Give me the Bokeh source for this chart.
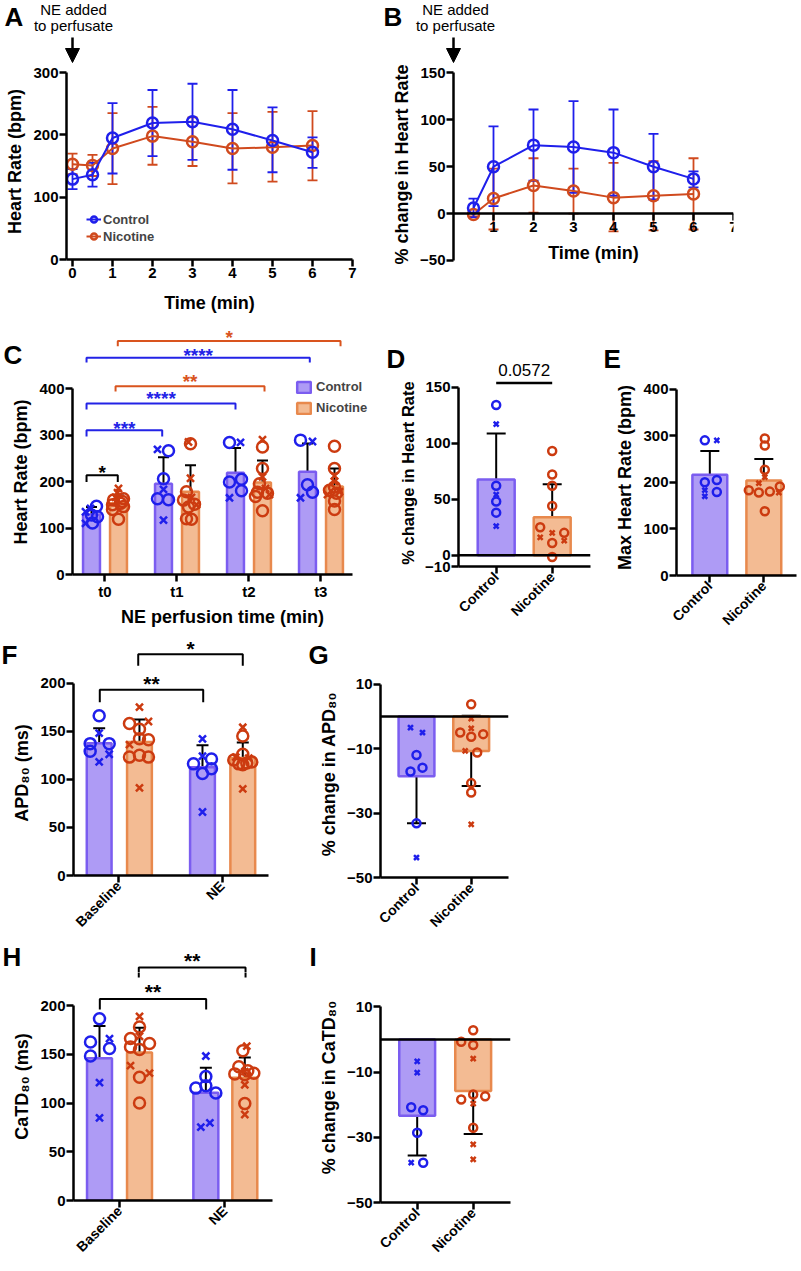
import math
from bokeh.plotting import figure
from bokeh.layouts import column, row
from bokeh.models import (ColumnDataSource, Whisker, TeeHead, Span, Legend,
                          LegendItem, FixedTicker, Arrow, NormalHead)
from bokeh.embed import file_html
from bokeh.resources import INLINE
from bokeh.core.properties import value

FONT = "Liberation Sans"
BLUE = "#1F1FEB"
RED = "#D04A1E"
PT_BLUE = "#1F1FEB"
PT_RED = "#CC3B10"
CTRL_FILL = "#AE9BF5"
CTRL_LINE = "#7B5DF0"
NIC_FILL = "#F3BB93"
NIC_LINE = "#E8894D"
SIG_BLUE = "#2323E6"
SIG_ORANGE = "#D9541E"

# ---------------- data ----------------
# Panel A: heart rate time course (mean, upper/lower error)
time_a = [0, 0.5, 1, 2, 3, 4, 5, 6]
a_ctrl_mean = [129, 136, 195, 219, 221, 209, 191, 172]
a_ctrl_hi = [145, 155, 251, 272, 282, 272, 244, 196]
a_ctrl_lo = [113, 117, 138, 166, 160, 144, 140, 147]
a_nic_mean = [153, 151, 178, 198, 189, 178, 180, 183]
a_nic_hi = [170, 168, 235, 245, 228, 235, 237, 238]
a_nic_lo = [137, 134, 121, 152, 150, 122, 125, 127]

# Panel B: % change in heart rate
time_b = [0.5, 1, 2, 3, 4, 5, 6]
b_ctrl_mean = [6, 50, 73, 71, 65, 50, 37]
b_ctrl_hi = [16, 93, 111, 120, 111, 85, 45]
b_ctrl_lo = [-4, 8, 35, 22, 19, 15, 28]
b_nic_mean = [-1, 16, 30, 24, 17, 19, 21]
b_nic_hi = [1, 48, 59, 48, 54, 56, 59]
b_nic_lo = [-3, -17, 1, 0, -19, -18, -17]
ne_time = 0

# Panel C: heart rate during NE perfusion
c_cats = ["t0", "t1", "t2", "t3"]
c_ctrl_mean = [129, 195, 219, 221]
c_ctrl_sd = [16, 57, 53, 61]
c_nic_mean = [153, 178, 198, 189]
c_nic_sd = [17, 57, 47, 39]
c_ctrl_pts = [[147, 142, 135, 128, 124, 111, 110],
              [269, 266, 206, 183, 163, 161, 117],
              [284, 284, 205, 199, 180, 165],
              [289, 286, 193, 177, 165]]
c_ctrl_mk = ["oxxooox", "xooxoox", "oxooox", "oxoox"]
c_nic_pts = [[185, 176, 166, 163, 160, 157, 153, 150, 146, 140, 119],
             [285, 281, 207, 178, 166, 160, 151, 150, 145, 120, 119],
             [290, 274, 228, 210, 195, 185, 177, 175, 172, 168, 137],
             [276, 228, 212, 200, 188, 181, 178, 175, 172, 158, 140]]
c_nic_mk = ["xxxoooooooo", "xoxoxooxooo", "xooxoxooxoo", "ooxxooxoxoo"]
c_sig_text = ["*", "***", "****", "**", "****", "*"]
c_sig_color = ["black", SIG_BLUE, SIG_BLUE, SIG_ORANGE, SIG_BLUE, SIG_ORANGE]

# Panel D: % change in heart rate
groups = ["Control", "Nicotine"]
d_mean = [67.5, 33.8]
d_sd = [41, 29.6]
d_ctrl_pts = [134, 117, 62, 54, 48, 38, 26]
d_ctrl_mk = "oxoxoox"
d_nic_pts = [93, 72, 62, 44, 25, 16, 20, 20, 11, 13, -1.5]
d_nic_mk = "oooooxoxoxo"
d_pvalue = "0.0572"

# Panel E: max heart rate
e_mean = [216, 204]
e_sd = [51, 46]
e_ctrl_pts = [290, 290, 200, 205, 179, 183, 170]
e_ctrl_mk = "oxoooxx"
e_nic_pts = [294, 279, 227, 211, 198, 191, 183, 178, 180, 178, 138]
e_nic_mk = "oooxxooooxo"

# Panel F: APD80
f_cats = ["Baseline", "NE"]
f_ctrl_mean = [137.5, 112.4]
f_ctrl_sd = [15.6, 23]
f_nic_mean = [138.6, 122]
f_nic_sd = [23.6, 16.3]
f_ctrl_pts = [[166, 148, 137, 137, 129, 126, 118], [142, 124, 121, 116, 111, 106, 66]]
f_ctrl_mk = ["oxoooxx", "xxoooox"]
f_nic_pts = [[175, 160, 158, 152, 142, 141, 136, 125, 123, 123, 91],
             [154, 145, 126, 123, 122, 120, 118, 117, 116, 115, 90]]
f_nic_mk = ["xxooooxooox", "xooxxooooox"]
f_sig_text = ["**", "*"]

# Panel G: % change in APD80
g_mean = [-18.6, -10.7]
g_sd = [14.6, 10.9]
g_ctrl_pts = [-3.5, -5, -12, -15.9, -17.1, -33.2, -43.8]
g_ctrl_mk = "xxoooox"
g_nic_pts = [3.8, -0.7, -3.7, -5, -5.5, -6.3, -10.7, -11.2, -20.7, -23.6, -33.5]
g_nic_mk = "oxxoooxooox"

# Panel H: CaTD80
h_ctrl_mean = [146, 110.5]
h_ctrl_sd = [33, 25.7]
h_nic_mean = [151.9, 126]
h_nic_sd = [25.4, 20.8]
h_ctrl_pts = [[186.5, 166.1, 162.7, 156, 148.2, 121, 84.8], [148.2, 127.1, 117.7, 115.3, 110.2, 79.7, 75.3]]
h_ctrl_mk = ["oxoooxx", "xooooxx"]
h_nic_pts = [[188.8, 178, 168.5, 166.1, 161.1, 157.6, 155, 138.3, 130.6, 126.5, 100],
             [158.3, 153.6, 137.3, 133, 132.2, 130.6, 129.9, 129, 118.7, 99.4, 88.2]]
h_nic_mk = ["xoxooooxxoo", "xoooxoooxox"]
h_sig_text = ["**", "**"]

# Panel I: % change in CaTD80
i_mean = [-23.4, -15.8]
i_sd = [12.2, 13.2]
i_ctrl_pts = [-6.7, -10.2, -20.8, -21.7, -28.6, -37.8, -37.8]
i_ctrl_mk = "xxoooxo"
i_nic_pts = [2.8, -0.7, -1.7, -5.9, -16.9, -17.4, -18.4, -19.7, -27.1, -32.2, -36.8]
i_nic_mk = "oooxoooxoxx"

# ---------------- layout (positions, pixel jitter) ----------------
c_ctrl_dx = [[5, -1, -6, 0, 6, 1, -6], [-6, 5, 0, 0, -6, 5, 0], [-6, 5, 6, -6, 6, -6], [-7, 5, 0, 5, -7]]
c_nic_dx = [[0, -1, -3, 5, -5, 4, 2, -6, 5, -6, 0], [-2, 0, 0, -4, 1, -7, 4, 6, -2, -4, 1],
            [0, 0, 0, 0, -3, 3, -5, 5, 7, -7, 0], [0, 0, 0, 0, 0, -5, 5, 2, -7, 0, 0]]
c_sig_x0 = [-0.254, -0.254, -0.254, 0.149, -0.254, 0.18]
c_sig_x1 = [0.18, 0.797, 1.815, 2.218, 2.847, 3.274]
c_sig_y = [213.6, 310, 368, 405, 466, 502]
c_sig_leg = [199, 297, 355, 393.5, 456, 491]
c_sig_ty = [219, 314, 379, 416, 472, 509]
d_ctrl_dx = [0, 0, 0, 0, 0, 0, 0]
d_nic_dx = [0, 0, 0, 0, -12, -12, 12, 0, 0, 12, 0]
e_ctrl_dx = [-5, 7, -5, 7, 7, -5, -5]
e_nic_dx = [1, 1, 1, 1, -5, 16, -15, -5, 6, 15, 1]
f_ctrl_dx = [[0, 0, -9, 10, -9, 10, 0], [0, 0, 9, -9, 9, 0, 0]]
f_nic_dx = [[0, 9, -10, 0, 0, 9, -10, 0, -10, 9, 0], [0, 0, 0, -7, 6, -9, 9, 4, -4, 0, 0]]
f_sig_x0 = [-0.184, 0.188]
f_sig_x1 = [0.817, 1.2]
f_sig_y = [193, 229.8]
f_sig_leg = [180, 217.8]
f_sig_ty = [199, 235.3]
g_ctrl_dx = [-6, 6, 0, 6, -6, 0, 0]
g_nic_dx = [0, 0, 0, -11, 12, 0, -6, 6, 0, 0, 0]
h_ctrl_dx = [[0, 10, -9, 10, -9, 0, 0], [0, 0, 0, -10, 10, 4, -5]]
h_nic_dx = [[0, 0, 0, -9, 10, -9, 0, -9, 10, 0, 0], [2, -2, -6, 3, 0, 9, -10, 0, 0, 0, 0]]
h_sig_x0 = [-0.187, 0.183]
h_sig_x1 = [0.823, 1.197]
h_sig_y = [206.8, 239]
h_sig_leg = [196, 228.8]
h_sig_ty = [214, 246.5]
i_ctrl_dx = [0, 0, -6, 6, 0, -6, 6]
i_nic_dx = [0, -12, 0, 0, 0, 12, -12, 0, 0, 0, 0]


def style_axes(p):
    for ax in p.axis:
        ax.axis_line_width = 2.5
        ax.axis_line_color = "black"
        ax.major_tick_line_width = 2.5
        ax.major_tick_line_color = "black"
        ax.major_tick_out = 7
        ax.major_tick_in = 0
        ax.minor_tick_line_color = None
        ax.major_label_text_font = FONT
        ax.major_label_text_font_style = "bold"
        ax.major_label_text_font_size = "15px"
        ax.major_label_text_color = "black"
        ax.major_label_standoff = 1
        ax.axis_label_text_font = FONT
        ax.axis_label_text_font_style = "bold"
        ax.axis_label_text_font_size = "18px"
        ax.axis_label_text_color = "black"
        ax.axis_label_standoff = 5


class Panel:
    """A header strip (no axes) stacked on a main plot sharing the same data scale."""

    def __init__(self, fx, fy, w, hh, hm, xr, yr, bl, br, bb):
        fw, fh = w - bl - br, hm - bb
        self.pxu = fw / (xr[1] - xr[0])
        self.pyu = fh / (yr[1] - yr[0])
        self.xr, self.yr = xr, yr
        self.frame_left = fx + bl
        self.frame_bottom = fy + hh + fh
        self.head_bottom = fy + hh
        common = dict(output_backend="svg", toolbar_location=None, tools="", title=None,
                      frame_align=False)
        self.main = figure(width=w, height=hm, x_range=xr, y_range=yr,
                           min_border_left=bl, min_border_right=br, min_border_top=0,
                           min_border_bottom=bb, **common)
        self.head = figure(width=w, height=hh,
                           x_range=(xr[0] - bl / self.pxu, xr[1] + br / self.pxu),
                           y_range=(yr[1], yr[1] + hh / self.pyu),
                           x_axis_location=None, y_axis_location=None, min_border=0, **common)
        for p in (self.main, self.head):
            p.grid.visible = False
            p.outline_line_color = None
        style_axes(self.main)
        self.figs = (self.head, self.main)

    def X(self, px):
        return self.xr[0] + (px - self.frame_left) / self.pxu

    def Y(self, py):
        return self.yr[0] + (self.frame_bottom - py) / self.pyu

    def fig_for(self, yval):
        py = self.frame_bottom - (yval - self.yr[0]) * self.pyu
        return self.head if py < self.head_bottom else self.main

    def layout(self):
        return column(self.head, self.main, spacing=0)

    def letter(self, txt, px, py):
        self.head.text(x=[self.X(px)], y=[self.Y(py)], text=[txt], text_font=value(FONT),
                       text_font_style="bold", text_font_size="26px", text_color="black",
                       text_align="left", text_baseline="middle")

    def note(self, txt, xval, yval, size="15px"):
        self.fig_for(yval).text(x=[xval], y=[yval], text=[txt], text_font=value(FONT),
                                text_font_size=size, text_color="black",
                                text_align="center", text_baseline="middle")

    def brackets(self, x0s, x1s, ys, legs, tys, texts, colors, fsize, lw=2):
        for x0, x1, y, lg, ty, t, c in zip(x0s, x1s, ys, legs, tys, texts, colors):
            for p in self.figs:
                p.line([x0, x0, x1, x1], [lg, y, y, lg], line_color=c, line_width=lw)
            self.fig_for(ty).text(x=[(x0 + x1) / 2], y=[ty], text=[t], text_font=value(FONT),
                                  text_font_style="bold", text_font_size=fsize, text_color=c,
                                  text_align="center", text_baseline="middle")


def cat_axis(p, labels, rotate):
    p.xaxis.ticker = FixedTicker(ticks=list(range(len(labels))))
    p.xaxis.major_label_overrides = {i: lab for i, lab in enumerate(labels)}
    if rotate:
        p.xaxis.major_label_orientation = math.pi / 4
        p.xaxis.major_label_text_font_size = "14px"


def draw_group(p, xc, means, sds, pts, mks, dxs, pxu, bar_w, fill, line, pcol, cap, msize, xsize):
    src = ColumnDataSource(dict(x=xc, top=means,
                                upper=[m + s for m, s in zip(means, sds)],
                                lower=[m - s for m, s in zip(means, sds)]))
    r = p.vbar(x="x", top="top", bottom=0, width=bar_w, fill_color=fill, line_color=line,
               line_width=2.5, source=src)
    xs, ys, ms, ss = [], [], [], []
    for x0, vals, mk, dx in zip(xc, pts, mks, dxs):
        for v, m, d in zip(vals, mk, dx):
            xs.append(x0 + d / pxu)
            ys.append(v)
            ms.append("circle" if m == "o" else "x")
            ss.append(msize if m == "o" else xsize)
    psrc = ColumnDataSource(dict(x=xs, y=ys, marker=ms, size=ss))
    p.scatter(x="x", y="y", marker="marker", size="size", source=psrc, line_color=pcol,
              fill_color=None, line_width=2.5)
    p.add_layout(Whisker(source=src, base="x", upper="upper", lower="lower",
                         line_color="black", line_width=2,
                         upper_head=TeeHead(size=cap, line_color="black", line_width=2),
                         lower_head=TeeHead(size=cap, line_color="black", line_width=2)))
    return r


def timecourse(p, t, cm, chi, clo, nm, nhi, nlo):
    out = {}
    for key, m, hi, lo, col in (("n", nm, nhi, nlo, RED), ("c", cm, chi, clo, BLUE)):
        src = ColumnDataSource(dict(t=t, m=m, hi=hi, lo=lo))
        p.add_layout(Whisker(source=src, base="t", upper="hi", lower="lo", line_color=col,
                             line_width=1.8,
                             upper_head=TeeHead(size=10, line_color=col, line_width=1.8),
                             lower_head=TeeHead(size=10, line_color=col, line_width=1.8)))
        ln = p.line("t", "m", source=src, line_color=col, line_width=2)
        sc = p.scatter("t", "m", source=src, marker="circle", size=11, line_color=col,
                       line_width=2.5, fill_color=None)
        out[key] = (ln, sc)
    return out


def ne_note(P, cx):
    P.note("NE added", P.X(cx), P.Y(9))
    P.note("to perfusate", P.X(cx), P.Y(25))
    P.head.add_layout(Arrow(x_start=ne_time, y_start=P.Y(37), x_end=ne_time, y_end=P.Y(62),
                            line_width=2.5, line_color="black",
                            end=NormalHead(size=14, fill_color="black", line_color="black")))


# ---------------- Panel A ----------------
A = Panel(0, 0, 380, 63, 255, (-0.15, 7.0), (0, 314.5), 66, 28, 59)
pA = A.main
pA.yaxis.bounds = (0, 300)
pA.xaxis.ticker = FixedTicker(ticks=[0, 1, 2, 3, 4, 5, 6, 7])
pA.yaxis.ticker = FixedTicker(ticks=[0, 100, 200, 300])
pA.xaxis.axis_label = "Time (min)"
pA.yaxis.axis_label = "Heart Rate (bpm)"
pA.xaxis.axis_label_standoff = 12
rA = timecourse(pA, time_a, a_ctrl_mean, a_ctrl_hi, a_ctrl_lo, a_nic_mean, a_nic_hi, a_nic_lo)
legA = Legend(items=[LegendItem(label="Control", renderers=list(rA["c"])),
                     LegendItem(label="Nicotine", renderers=list(rA["n"]))],
              location=(20, 15), padding=0, margin=0, spacing=1, glyph_width=15,
              glyph_height=16, label_height=16, label_standoff=2,
              label_text_font=FONT, label_text_font_style="bold", label_text_font_size="13px",
              border_line_color=None, background_fill_alpha=0)
pA.add_layout(legA)
ne_note(A, 73)
A.letter("A", 4, 16)

# ---------------- Panel B ----------------
B = Panel(380, 0, 421, 63, 255, (0, 7.0), (-55.4, 160.1), 73, 68, 53)
pB = B.main
pB.xaxis.fixed_location = 0
pB.yaxis.bounds = (-50, 150)
pB.xaxis.bounds = (0, 7)
pB.xaxis.ticker = FixedTicker(ticks=[1, 2, 3, 4, 5, 6, 7])
pB.yaxis.ticker = FixedTicker(ticks=[-50, 0, 50, 100, 150])
pB.xaxis.axis_label = "Time (min)"
pB.yaxis.axis_label = "% change in Heart Rate"
pB.xaxis.axis_label_standoff = 8
timecourse(pB, time_b, b_ctrl_mean, b_ctrl_hi, b_ctrl_lo, b_nic_mean, b_nic_hi, b_nic_lo)
ne_note(B, 455)
B.letter("B", 383, 16)

# ---------------- Panel C ----------------
C = Panel(0, 318, 380, 51, 267, (-0.449, 3.718), (0, 440.9), 72, 8, 62)
pC = C.main
pC.xaxis.bounds = (-0.449, 3.44)
pC.yaxis.bounds = (0, 400)
pC.yaxis.ticker = FixedTicker(ticks=[0, 100, 200, 300, 400])
cat_axis(pC, c_cats, False)
pC.xaxis.axis_label = "NE perfusion time (min)"
pC.yaxis.axis_label = "Heart Rate (bpm)"
pC.xaxis.axis_label_standoff = 4
xc_ctrl = [i - 0.185 for i in range(len(c_cats))]
xc_nic = [i + 0.19 for i in range(len(c_cats))]
rc = draw_group(pC, xc_ctrl, c_ctrl_mean, c_ctrl_sd, c_ctrl_pts, c_ctrl_mk, c_ctrl_dx, C.pxu, 0.235,
                CTRL_FILL, CTRL_LINE, PT_BLUE, 11, 11, 10)
rn = draw_group(pC, xc_nic, c_nic_mean, c_nic_sd, c_nic_pts, c_nic_mk, c_nic_dx, C.pxu, 0.235,
                NIC_FILL, NIC_LINE, PT_RED, 11, 11, 10)
C.brackets(c_sig_x0, c_sig_x1, c_sig_y, c_sig_leg, c_sig_ty, c_sig_text, c_sig_color, "19px")
legC = Legend(items=[LegendItem(label="Control", renderers=[rc]),
                     LegendItem(label="Nicotine", renderers=[rn])],
              location=(223, 159), padding=0, margin=0, spacing=6, glyph_width=17,
              glyph_height=14, label_height=14, label_standoff=4,
              label_text_font=FONT, label_text_font_style="bold", label_text_font_size="13px",
              border_line_color=None, background_fill_alpha=0)
pC.add_layout(legC)
C.letter("C", 3, 354)

# ---------------- Panel D ----------------
D = Panel(380, 318, 213, 61, 257, (-0.673, 1.684), (-10, 156.7), 78, 3, 70)
pD = D.main
pD.yaxis.bounds = (-10, 150)
pD.yaxis.ticker = FixedTicker(ticks=[-10, 0, 50, 100, 150])
cat_axis(pD, groups, True)
pD.yaxis.axis_label = "% change in Heart Rate"
pD.yaxis.axis_label_text_font_size = "16.5px"
draw_group(pD, [0], [d_mean[0]], [d_sd[0]], [d_ctrl_pts], [d_ctrl_mk], [d_ctrl_dx], D.pxu, 0.66,
           CTRL_FILL, CTRL_LINE, PT_BLUE, 19, 8, 7)
draw_group(pD, [1], [d_mean[1]], [d_sd[1]], [d_nic_pts], [d_nic_mk], [d_nic_dx], D.pxu, 0.66,
           NIC_FILL, NIC_LINE, PT_RED, 19, 8, 7)
pD.add_layout(Span(location=0, dimension="width", line_color="black", line_width=2.5))
for p in D.figs:
    p.line([0, 1], [153.6, 153.6], line_color="black", line_width=2.5)
D.note(d_pvalue, 0.5, D.Y(369), size="17px")
D.letter("D", 386, 358)

# ---------------- Panel E ----------------
E = Panel(593, 318, 208, 61, 257, (-0.617, 1.605), (0, 420.6), 83, 5, 59)
pE = E.main
pE.yaxis.bounds = (0, 400)
pE.yaxis.ticker = FixedTicker(ticks=[0, 100, 200, 300, 400])
cat_axis(pE, groups, True)
pE.yaxis.axis_label = "Max Heart Rate (bpm)"
draw_group(pE, [0], [e_mean[0]], [e_sd[0]], [e_ctrl_pts], [e_ctrl_mk], [e_ctrl_dx], E.pxu, 0.645,
           CTRL_FILL, CTRL_LINE, PT_BLUE, 19, 8, 7)
draw_group(pE, [1], [e_mean[1]], [e_sd[1]], [e_nic_pts], [e_nic_mk], [e_nic_dx], E.pxu, 0.645,
           NIC_FILL, NIC_LINE, PT_RED, 19, 8, 7)
E.letter("E", 603, 358)

# ---------------- Panel F ----------------
F = Panel(0, 636, 300, 34, 268, (-0.4385, 1.449), (0, 213), 73, 32, 61)
pF = F.main
pF.yaxis.bounds = (0, 200)
pF.yaxis.ticker = FixedTicker(ticks=[0, 50, 100, 150, 200])
cat_axis(pF, f_cats, True)
pF.yaxis.axis_label = "APD\u2088\u2080 (ms)"
draw_group(pF, [-0.19, 0.81], f_ctrl_mean, f_ctrl_sd, f_ctrl_pts, f_ctrl_mk, f_ctrl_dx, F.pxu, 0.24,
           CTRL_FILL, CTRL_LINE, PT_BLUE, 12, 11, 10)
draw_group(pF, [0.2, 1.2], f_nic_mean, f_nic_sd, f_nic_pts, f_nic_mk, f_nic_dx, F.pxu, 0.24,
           NIC_FILL, NIC_LINE, PT_RED, 12, 11, 10)
F.brackets(f_sig_x0, f_sig_x1, f_sig_y, f_sig_leg, f_sig_ty, f_sig_text, ["black", "black"], "21px")
F.letter("F", 1, 654)

# ---------------- Panel G ----------------
G = Panel(300, 636, 340, 34, 268, (-0.658, 1.682), (-50, 14.25), 80, 132, 61)
pG = G.main
pG.yaxis.bounds = (-50, 10)
pG.yaxis.ticker = FixedTicker(ticks=[-50, -30, -10, 10])
cat_axis(pG, groups, True)
pG.yaxis.axis_label = "% change in APD\u2088\u2080"
draw_group(pG, [0], [g_mean[0]], [g_sd[0]], [g_ctrl_pts], [g_ctrl_mk], [g_ctrl_dx], G.pxu, 0.655,
           CTRL_FILL, CTRL_LINE, PT_BLUE, 19, 8, 7)
draw_group(pG, [1], [g_mean[1]], [g_sd[1]], [g_nic_pts], [g_nic_mk], [g_nic_dx], G.pxu, 0.655,
           NIC_FILL, NIC_LINE, PT_RED, 19, 8, 7)
pG.add_layout(Span(location=0, dimension="width", line_color="black", line_width=2.5))
G.letter("G", 308, 654)

# ---------------- Panel H ----------------
H = Panel(0, 938, 300, 34, 291, (-0.437, 1.453), (0, 233.9), 73, 28, 61)
pH = H.main
pH.yaxis.bounds = (0, 200)
pH.yaxis.ticker = FixedTicker(ticks=[0, 50, 100, 150, 200])
cat_axis(pH, f_cats, True)
pH.yaxis.axis_label = "CaTD\u2088\u2080 (ms)"
draw_group(pH, [-0.19, 0.82], h_ctrl_mean, h_ctrl_sd, h_ctrl_pts, h_ctrl_mk, h_ctrl_dx, H.pxu, 0.237,
           CTRL_FILL, CTRL_LINE, PT_BLUE, 12, 11, 10)
draw_group(pH, [0.19, 1.19], h_nic_mean, h_nic_sd, h_nic_pts, h_nic_mk, h_nic_dx, H.pxu, 0.237,
           NIC_FILL, NIC_LINE, PT_RED, 12, 11, 10)
H.brackets(h_sig_x0, h_sig_x1, h_sig_y, h_sig_leg, h_sig_ty, h_sig_text, ["black", "black"], "21px")
H.letter("H", 2, 956)

# ---------------- Panel I ----------------
I = Panel(300, 938, 340, 34, 291, (-0.655, 1.666), (-50, 20.53), 80, 130, 61)
pI = I.main
pI.yaxis.bounds = (-50, 10)
pI.yaxis.ticker = FixedTicker(ticks=[-50, -30, -10, 10])
cat_axis(pI, groups, True)
pI.yaxis.axis_label = "% change in CaTD\u2088\u2080"
draw_group(pI, [0], [i_mean[0]], [i_sd[0]], [i_ctrl_pts], [i_ctrl_mk], [i_ctrl_dx], I.pxu, 0.64,
           CTRL_FILL, CTRL_LINE, PT_BLUE, 19, 8, 7)
draw_group(pI, [1], [i_mean[1]], [i_sd[1]], [i_nic_pts], [i_nic_mk], [i_nic_dx], I.pxu, 0.64,
           NIC_FILL, NIC_LINE, PT_RED, 19, 8, 7)
pI.add_layout(Span(location=0, dimension="width", line_color="black", line_width=2.5))
I.letter("I", 309, 956)

layout = column(row(A.layout(), B.layout(), spacing=0),
                row(C.layout(), D.layout(), E.layout(), spacing=0),
                row(F.layout(), G.layout(), spacing=0),
                row(H.layout(), I.layout(), spacing=0), spacing=0)
open("out.html", "w").write(file_html(layout, INLINE))
